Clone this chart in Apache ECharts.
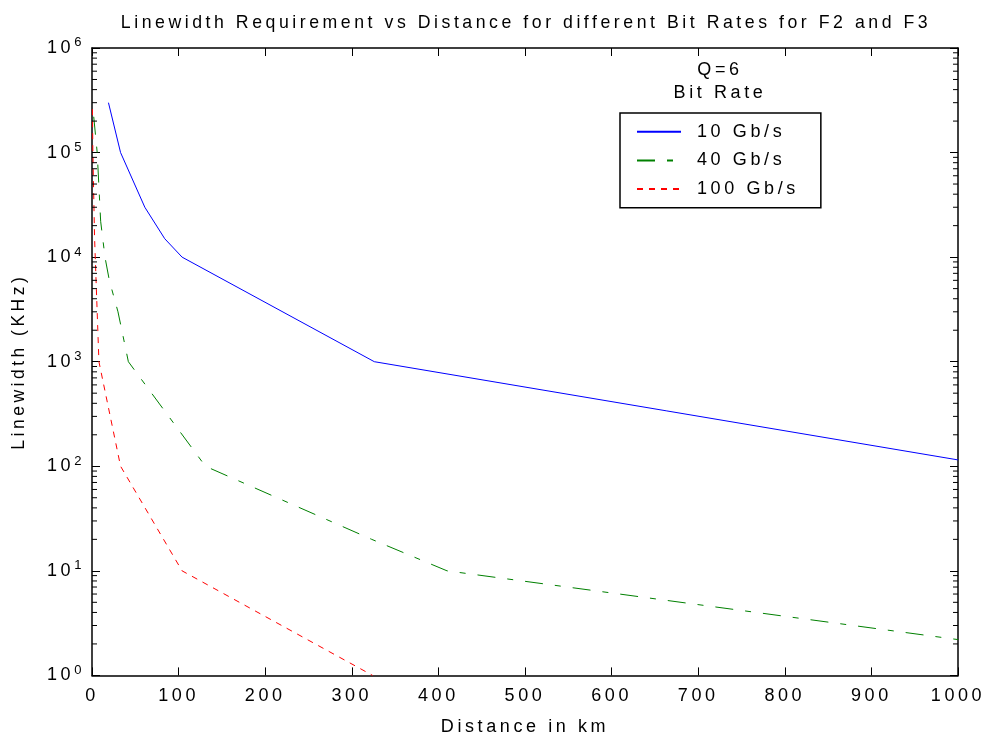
<!DOCTYPE html>
<html>
<head>
<meta charset="utf-8">
<script src="https://cdn.jsdelivr.net/npm/echarts@6/dist/echarts.min.js"></script>
<style>html,body{margin:0;padding:0;background:#fff}#chart{width:989px;height:743px}</style>
</head>
<body>
<div id="chart"></div>
<script>
// --- letter spacing like the MATLAB export (applied to all canvas text, measuring included)
(function(){
  const d = Object.getOwnPropertyDescriptor(CanvasRenderingContext2D.prototype, 'font');
  if (!d || !('letterSpacing' in CanvasRenderingContext2D.prototype)) return;
  Object.defineProperty(CanvasRenderingContext2D.prototype, 'font', {
    configurable: true,
    get() { return d.get.call(this); },
    set(v) {
      d.set.call(this, v);
      const m = /(\d+(?:\.\d+)?)px/.exec(v);
      const px = m ? parseFloat(m[1]) : 12;
      this.letterSpacing = (px * 0.2).toFixed(2) + 'px';
    }
  });
})();

// ---------------- data ----------------
const titleText = 'Linewidth Requirement vs Distance for different Bit Rates for F2 and F3';
const xName = 'Distance in km';
const yName = 'Linewidth (KHz)';
const seriesNames = ['10 Gb/s', '40 Gb/s', '100 Gb/s'];

const dist10 = [19, 33, 61, 84, 104, 326, 1000];
const lw10   = [3e5, 1e5, 3e4, 1.5e4, 1e4, 1000, 115];

const dist40 = [2, 6, 10, 15, 20, 30, 42, 131, 323, 410, 1000];
const lw40   = [2.2e5, 1e5, 2.2e4, 1e4, 6e3, 3e3, 1000, 100, 20, 10, 2.2];

const dist100 = [0.5, 1, 3, 8, 33, 104, 324];
const lw100   = [2.6e5, 1e5, 1.5e4, 1000, 100, 10, 1];

const xMin = 0, xMax = 1000, xStep = 100;
const yMin = 1, yMax = 1e6;
const minorMultipliers = [2, 3, 4, 5, 6, 7, 8, 9];
const decades = [1, 10, 100, 1000, 10000, 100000];

// ---------------- build ----------------
const pairs = (xs, ys) => xs.map((x, i) => [x, ys[i]]);
const minorTicks = [];
decades.forEach(d => minorMultipliers.forEach(m => minorTicks.push([0, d * m])));

const FONT = 'Liberation Sans, Arial, sans-serif';
const chart = echarts.init(document.getElementById('chart'), null, { renderer: 'canvas' });

const axisLine = { show: true, onZero: false, lineStyle: { color: '#000', width: 1.5 } };
const tick = { show: true, inside: true, length: 8, lineStyle: { color: '#000', width: 1 } };

chart.setOption({
  backgroundColor: '#fff',
  animation: false,
  textStyle: { fontFamily: FONT },
  title: {
    text: titleText,
    left: 521, top: 7, textAlign: 'center',
    textStyle: { fontFamily: FONT, fontSize: 17.7, fontWeight: 'normal', color: '#000' }
  },
  graphic: [
    { type: 'text', x: 720, y: 70, style: { text: 'Q=6', fontFamily: FONT, fontSize: 18, fill: '#000', align: 'center', verticalAlign: 'middle' } },
    { type: 'text', x: 720, y: 93, style: { text: 'Bit Rate', fontFamily: FONT, fontSize: 18, fill: '#000', align: 'center', verticalAlign: 'middle' } }
  ],
  legend: {
    data: seriesNames,
    orient: 'vertical',
    left: 620, top: 113,
    padding: [8, 22, 8, 16],
    itemGap: 7,
    itemWidth: 44, itemHeight: 14,
    backgroundColor: '#fff',
    borderColor: '#000', borderWidth: 1.5, borderRadius: 0,
    itemStyle: { opacity: 0, borderWidth: 0 },
    textStyle: { fontFamily: FONT, fontSize: 18, color: '#000', lineHeight: 18, padding: [0, 0, 0, 11] }
  },
  grid: { left: 92, right: 31, top: 48, bottom: 65, containLabel: false },
  xAxis: [
    {
      type: 'value', min: xMin, max: xMax, interval: xStep, position: 'bottom',
      name: xName, nameLocation: 'middle', nameGap: 41,
      nameTextStyle: { fontFamily: FONT, fontSize: 18, color: '#000' },
      axisLine: axisLine, axisTick: tick,
      axisLabel: { color: '#000', fontSize: 18, fontFamily: FONT, margin: 10, formatter: v => String(v) },
      splitLine: { show: false }
    },
    {
      type: 'value', min: xMin, max: xMax, interval: xStep, position: 'top',
      axisLine: axisLine, axisTick: tick,
      axisLabel: { show: false },
      splitLine: { show: false }
    }
  ],
  yAxis: [
    {
      type: 'log', logBase: 10, min: yMin, max: yMax, position: 'left',
      name: yName, nameLocation: 'middle', nameGap: 62, nameRotate: 90,
      nameTextStyle: { fontFamily: FONT, fontSize: 17.5, color: '#000' },
      axisLine: axisLine, axisTick: tick,
      axisLabel: {
        margin: 8,
        formatter: v => '{b|10}{s|' + Math.round(Math.log10(v)) + '}',
        rich: {
          b: { fontSize: 18, fontFamily: FONT, color: '#000', lineHeight: 26 },
          s: { fontSize: 13, fontFamily: FONT, color: '#000', lineHeight: 13, verticalAlign: 'top' }
        }
      },
      splitLine: { show: false }
    },
    {
      type: 'log', logBase: 10, min: yMin, max: yMax, position: 'right',
      axisLine: axisLine, axisTick: tick,
      axisLabel: { show: false },
      splitLine: { show: false }
    }
  ],
  series: [
    {
      name: seriesNames[0], type: 'line', data: pairs(dist10, lw10),
      showSymbol: false, symbol: 'none',
      lineStyle: { color: '#0000ff', width: 1, type: 'solid' },
      itemStyle: { color: '#0000ff' }, z: 3
    },
    {
      name: seriesNames[1], type: 'line', data: pairs(dist40, lw40),
      showSymbol: false, symbol: 'none',
      lineStyle: { color: '#008000', width: 1, type: [18, 12, 6, 12] },
      itemStyle: { color: '#008000' }, z: 3
    },
    {
      name: seriesNames[2], type: 'line', data: pairs(dist100, lw100),
      showSymbol: false, symbol: 'none',
      lineStyle: { color: '#ff0000', width: 1, type: [6, 6] },
      itemStyle: { color: '#ff0000' }, z: 3
    },
    {
      name: 'minorTicks', type: 'custom', silent: true, z: 4,
      data: minorTicks,
      renderItem: function (params, api) {
        const cs = params.coordSys;
        const y = api.coord([0, api.value(1)])[1];
        const st = { stroke: '#000', lineWidth: 1 };
        return {
          type: 'group',
          children: [
            { type: 'line', shape: { x1: cs.x, y1: y, x2: cs.x + 5, y2: y }, style: st },
            { type: 'line', shape: { x1: cs.x + cs.width, y1: y, x2: cs.x + cs.width - 5, y2: y }, style: st }
          ]
        };
      }
    }
  ]
});
</script>
</body>
</html>
